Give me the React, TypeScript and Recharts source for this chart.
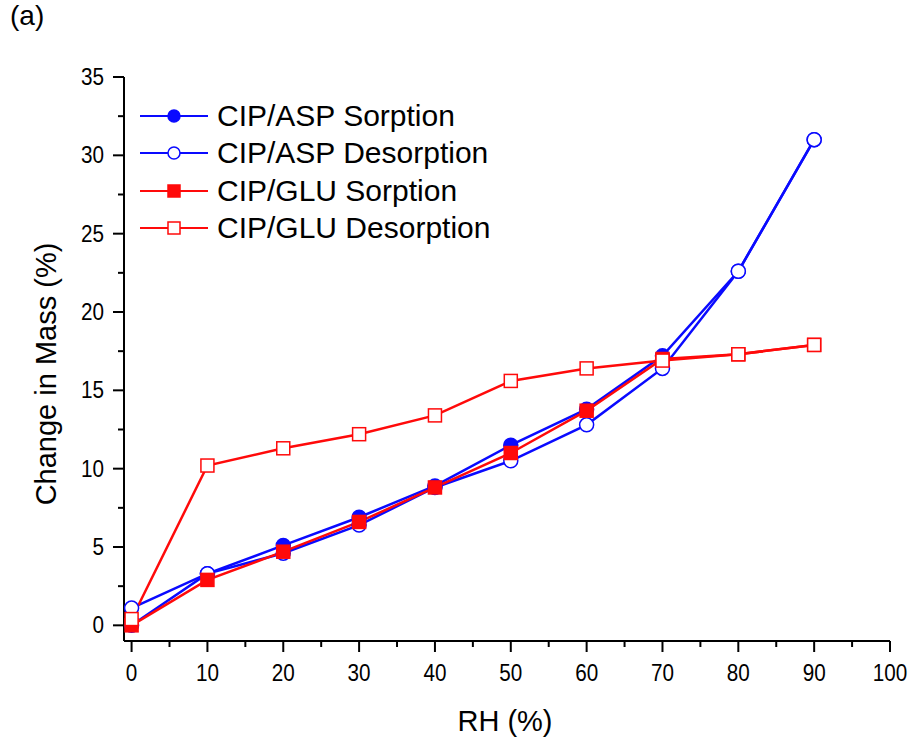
import React from "react";
import { LineChart, Line, XAxis, YAxis } from "recharts";

const FONT = "'Liberation Sans', Arial, sans-serif";
const BLUE = "#0a0aff";
const RED = "#ff0a0a";

// relative humidity steps (%)
const rh = [0, 10, 20, 30, 40, 50, 60, 70, 80, 90];
// change in mass (%)
const aspSorption = [0, 3.3, 5.1, 6.9, 8.9, 11.5, 13.8, 17.2, 22.6, 31.0];
const aspDesorption = [1.1, 3.3, 4.6, 6.4, 8.8, 10.5, 12.8, 16.4, 22.6, 31.0];
const gluSorption = [0, 2.9, 4.7, 6.6, 8.8, 11.0, 13.7, 17.0, 17.3, 17.9];
const gluDesorption = [0.4, 10.2, 11.3, 12.2, 13.4, 15.6, 16.4, 16.9, 17.3, 17.9];

const xTicks = [0, 5, 10, 15, 20, 25, 30, 35, 40, 45, 50, 55, 60, 65, 70, 75, 80, 85, 90, 95, 100];
const yTicks = [0, 2.5, 5, 7.5, 10, 12.5, 15, 17.5, 20, 22.5, 25, 27.5, 30, 32.5, 35];

const series = [
  { key: "aspS", name: "CIP/ASP Sorption", color: BLUE, shape: "circle", filled: true },
  { key: "aspD", name: "CIP/ASP Desorption", color: BLUE, shape: "circle", filled: false },
  { key: "gluS", name: "CIP/GLU Sorption", color: RED, shape: "square", filled: true },
  { key: "gluD", name: "CIP/GLU Desorption", color: RED, shape: "square", filled: false },
];

const data = rh.map((x, i) => ({
  rh: x,
  aspS: aspSorption[i],
  aspD: aspDesorption[i],
  gluS: gluSorption[i],
  gluD: gluDesorption[i],
}));

function Marker({ cx, cy, shape, filled, color, size }: any) {
  if (shape === "circle") {
    return <circle cx={cx} cy={cy} r={size / 2} fill={filled ? color : "#fff"} stroke={color} strokeWidth={1.5} />;
  }
  return (
    <rect
      x={cx - size / 2}
      y={cy - size / 2}
      width={size}
      height={size}
      fill={filled ? color : "#fff"}
      stroke={color}
      strokeWidth={1.5}
    />
  );
}

// tick labels in the original are a bit condensed
const XTick = ({ x, y, payload }: any) => {
  const major = payload.value % 10 === 0;
  return (
    <g>
      <line x1={x} x2={x} y1={y} y2={y + (major ? 11 : 6)} stroke="#000" strokeWidth={2} />
      {major && (
        <text
          transform={`translate(${x}, ${y + 40}) scale(0.9, 1.05)`}
          textAnchor="middle"
          fontSize={23}
          fontFamily={FONT}
          fill="#000"
        >
          {payload.value}
        </text>
      )}
    </g>
  );
};

const YTick = ({ x, y, payload }: any) => {
  const major = payload.value % 5 === 0;
  return (
    <g>
      <line x1={x - (major ? 11 : 6)} x2={x} y1={y} y2={y} stroke="#000" strokeWidth={2} />
      {major && (
        <text
          transform={`translate(${x - 20}, ${y + 8}) scale(0.9, 1.05)`}
          textAnchor="end"
          fontSize={23}
          fontFamily={FONT}
          fill="#000"
        >
          {payload.value}
        </text>
      )}
    </g>
  );
};

function ChartLegend() {
  return (
    <div style={{ position: "absolute", left: 140, top: 97, fontFamily: FONT, fontSize: 30, color: "#000" }}>
      {series.map((s) => (
        <div key={s.key} style={{ display: "flex", alignItems: "center", height: 37.5 }}>
          <svg width={68} height={20}>
            <line x1={0} x2={68} y1={10} y2={10} stroke={s.color} strokeWidth={2} />
            <Marker cx={34} cy={10} shape={s.shape} filled={s.filled} color={s.color} size={12} />
          </svg>
          <span style={{ marginLeft: 9, whiteSpace: "nowrap" }}>{s.name}</span>
        </div>
      ))}
    </div>
  );
}

export default function App() {
  return (
    <div style={{ position: "absolute", left: 0, top: 0, width: 913, height: 738, background: "#fff" }}>
      <div style={{ position: "absolute", left: 10, top: 0, fontFamily: FONT, fontSize: 28 }}>(a)</div>
      <LineChart width={913} height={738} data={data} margin={{ top: 77, right: 23, bottom: 37, left: 64 }}>
        <XAxis
          dataKey="rh"
          type="number"
          domain={[-1, 100]}
          ticks={xTicks}
          interval={0}
          height={60}
          tickSize={0}
          tickMargin={0}
          tickLine={false}
          tick={<XTick />}
          axisLine={{ stroke: "#000", strokeWidth: 2 }}
          label={{
            content: ({ viewBox }: any) => (
              <text
                x={viewBox.x + viewBox.width / 2 - 2}
                y={viewBox.y + 90}
                textAnchor="middle"
                fontSize={29}
                fontFamily={FONT}
                fill="#000"
              >
                RH (%)
              </text>
            ),
          }}
        />
        <YAxis
          type="number"
          domain={[-1, 35]}
          ticks={yTicks}
          interval={0}
          width={60}
          tickSize={0}
          tickMargin={0}
          tickLine={false}
          tick={<YTick />}
          axisLine={{ stroke: "#000", strokeWidth: 2 }}
          label={{
            content: ({ viewBox }: any) => (
              <text
                transform={`translate(${viewBox.x - 8}, ${viewBox.y + viewBox.height / 2 + 15}) rotate(-90)`}
                textAnchor="middle"
                fontSize={29}
                fontFamily={FONT}
                fill="#000"
              >
                Change in Mass (%)
              </text>
            ),
          }}
        />
        {series.map((s) => (
          <Line
            key={s.key}
            dataKey={s.key}
            name={s.name}
            type="linear"
            stroke={s.color}
            strokeWidth={2.5}
            isAnimationActive={false}
            dot={(p: any) => (
              <Marker
                key={`${s.key}-${p.index}`}
                cx={p.cx}
                cy={p.cy}
                shape={s.shape}
                filled={s.filled}
                color={s.color}
                size={s.shape === "circle" ? 14 : 13}
              />
            )}
            activeDot={false}
          />
        ))}
      </LineChart>
      <ChartLegend />
    </div>
  );
}
